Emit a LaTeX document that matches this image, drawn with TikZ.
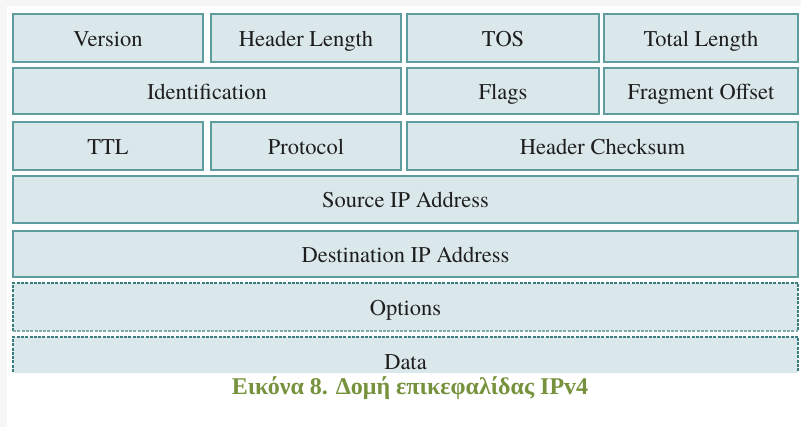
\documentclass[tikz,border=0pt]{standalone}
\usepackage{fontspec}
\setmainfont{Liberation Serif}
\newfontfamily\fieldfont{texgyretermes-regular.otf}
\usetikzlibrary{positioning}
\definecolor{boxfill}{HTML}{DAE7EB}
\definecolor{boxline}{HTML}{5E9C9E}
\definecolor{dashline}{HTML}{3A7D7F}
\definecolor{dashlight}{HTML}{7FA9AA}
\definecolor{boxtext}{HTML}{1E1E1E}
\definecolor{captiongreen}{HTML}{76923C}

\begin{document}
\begin{tikzpicture}[x=1pt, y=-1pt,
    field/.style={draw=boxline, fill=boxfill, line width=1.1pt, inner sep=0pt, outer sep=0pt,
        minimum height=48pt, text height=19pt, text depth=2pt, text=boxtext,
        font=\fieldfont\fontsize{22.5}{26}\selectfont},
    optline/.style={draw=dashline, dash pattern=on 3pt off 1.3pt, line width=1.8pt},
    optbottom/.style={draw=dashlight, dash pattern=on 3pt off 1.3pt, line width=1.2pt}]
    % Page and frame
    \fill[gray!7] (0,0) rectangle (801,427);
    \fill[white] (7,6) rectangle (801,427);
    \useasboundingbox (0,0) rectangle (801,427);

    % Row 1
    \node[field, minimum width=190pt] (version) at (108,38) {Version};
    \node[field, minimum width=190pt] (hlen) at (306,38) {Header Length};
    \node[field, minimum width=192pt] (tos) at (503,38) {TOS};
    \node[field, minimum width=194pt] (tlen) at (701,38) {Total Length};

    % Row 2
    \node[field, minimum width=388pt, minimum height=46pt] (ident) at (207,91) {Identification};
    \node[field, minimum width=192pt, minimum height=46pt] (flags) at (503,91) {Flags};
    \node[field, minimum width=194pt, minimum height=46pt] (frag) at (701,91) {Fragment Offset};

    % Row 3
    \node[field, minimum width=190pt] (ttl) at (108,146) {TTL};
    \node[field, minimum width=190pt] (proto) at (306,146) {Protocol};
    \node[field, minimum width=391pt] (chk) at (602.5,146) {Header Checksum};

    % Addresses
    \node[field, minimum width=785pt, minimum height=47pt] (src) at (405.5,199.5) {Source IP Address};
    \node[field, minimum width=785pt, minimum height=46pt] (dst) at (405.5,254) {Destination IP Address};

    % Options
    \node[field, draw=none, minimum width=785pt] (opts) at (405.5,307) {Options};
    \draw[optline] (opts.south west) -- (opts.north west) -- (opts.north east) -- (opts.south east);
    \draw[optbottom] (opts.south west) -- (opts.south east);

    % Data, cut off by the caption
    \begin{scope}
        \clip (0,0) rectangle (801,373);
        \node[field, draw=none, minimum width=785pt] (data) at (405.5,361) {Data};
        \draw[optline] (data.south west) -- (data.north west) -- (data.north east) -- (data.south east);
    \end{scope}

    % Caption
    \node[text=captiongreen, font=\bfseries\fontsize{24}{28}\selectfont, anchor=base] (caption)
        at (410,395) {Εικόνα 8. Δομή επικεφαλίδας IPv4};
\end{tikzpicture}
\end{document}
